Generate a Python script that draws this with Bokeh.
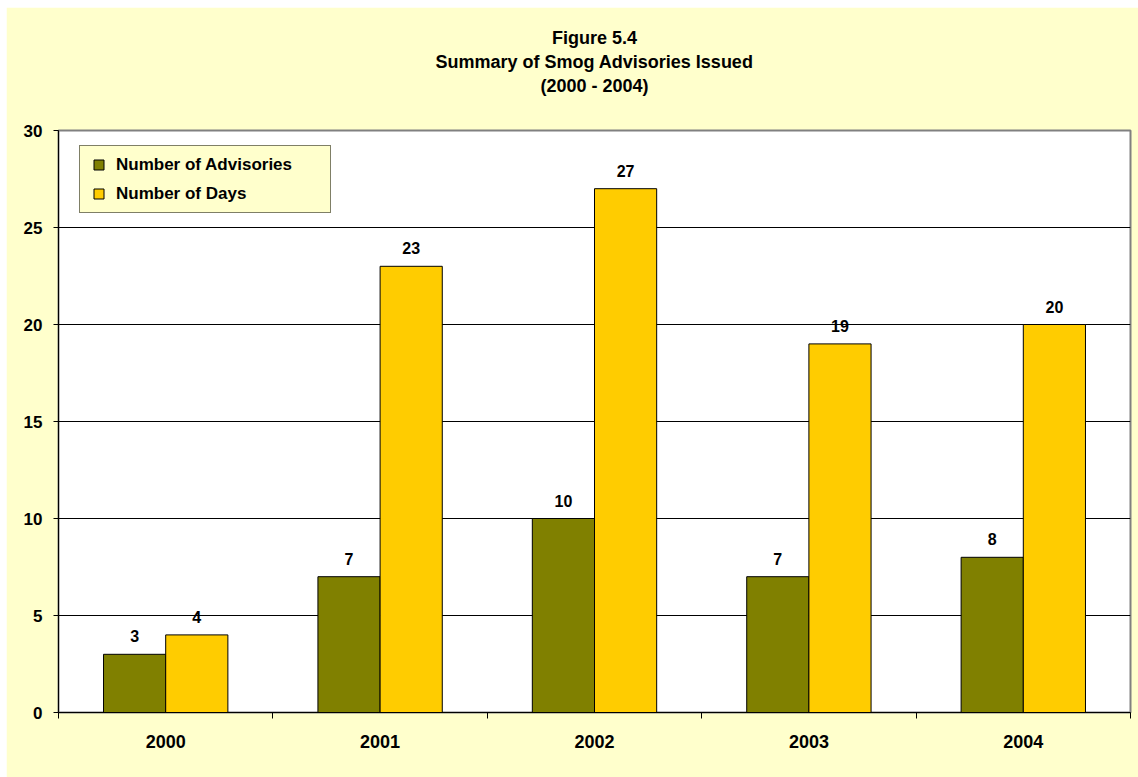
from bokeh.plotting import figure
from bokeh.models import (ColumnDataSource, FixedTicker, Range1d, Legend, LegendItem,
                          Title, Spacer)
from bokeh.layouts import column, row
from bokeh.transform import dodge
from bokeh.core.properties import value
from bokeh.embed import file_html
from bokeh.resources import INLINE

years = ["2000", "2001", "2002", "2003", "2004"]
advisories = [3, 7, 10, 7, 8]
days = [4, 23, 27, 19, 20]
y_ticks = [0, 5, 10, 15, 20, 25, 30]
series_names = ["Number of Advisories", "Number of Days"]
title_lines = ["Figure 5.4", "Summary of Smog Advisories Issued", "(2000 - 2004)"]

FONT = "Liberation Sans"
OLIVE = "#808000"
GOLD = "#FFCC00"
BG = "#FFFFCC"

xpos = [i + 0.5 for i in range(len(years))]
src = ColumnDataSource(dict(x=xpos, adv=advisories, days=days,
                            adv_t=[str(v) for v in advisories],
                            days_t=[str(v) for v in days]))

p = figure(width=1132, height=770, output_backend="svg", toolbar_location=None,
           title=None,
           x_range=Range1d(0, len(years)), y_range=Range1d(0, 30),
           min_border_left=52, min_border_right=8, min_border_top=123, min_border_bottom=65)

p.border_fill_color = BG
p.background_fill_color = "white"
p.outline_line_color = "#808080"
p.outline_line_width = 2

xa = p.below[0]
ya = p.left[0]

# blank band between the plot area and the title block
p.add_layout(Title(text=" ", text_font_size="2px", standoff=30), "above")

# title: three centred lines, innermost first
for line in (title_lines[2], title_lines[1], title_lines[0]):
    p.add_layout(Title(text=line, align="center", text_font=FONT, text_font_size="18px",
                       text_font_style="bold", text_color="black", standoff=2), "above")

bw = 0.29
p.vbar(x=dodge("x", -bw / 2, range=p.x_range), top="adv", width=bw, source=src,
       fill_color=OLIVE, line_color="black", line_width=1)
p.vbar(x=dodge("x", bw / 2, range=p.x_range), top="days", width=bw, source=src,
       fill_color=GOLD, line_color="black", line_width=1)

for col, off in (("adv", -bw / 2), ("days", bw / 2)):
    p.text(x=dodge("x", off, range=p.x_range), y=col, text=col + "_t", source=src,
           text_align="center", text_baseline="bottom", y_offset=-12,
           text_font=value(FONT), text_font_style="bold", text_font_size="16px",
           text_color="black")

# legend swatches: square markers (hidden in the plot, shown in the legend)
sw1 = p.scatter(x=dodge("x", -bw / 2, range=p.x_range), y="adv", source=src,
                marker="square", fill_color=OLIVE, line_color="black", visible=False)
sw2 = p.scatter(x=dodge("x", bw / 2, range=p.x_range), y="days", source=src,
                marker="square", fill_color=GOLD, line_color="black", visible=False)

# axes
xa.ticker = FixedTicker(ticks=xpos, minor_ticks=list(range(len(years) + 1)))
xa.major_label_overrides = {x: y for x, y in zip(xpos, years)}
xa.major_tick_out = 0
xa.major_tick_in = 0
xa.minor_tick_out = 6
xa.minor_tick_in = 0
xa.minor_tick_line_color = "black"
xa.major_label_standoff = 16
xa.major_label_text_font_size = "18px"
ya.ticker = FixedTicker(ticks=y_ticks)
ya.major_tick_out = 5
ya.major_tick_in = 0
ya.minor_tick_out = 0
ya.major_label_standoff = 11
ya.major_label_text_font_size = "17px"
for ax in (xa, ya):
    ax.axis_line_color = "black"
    ax.axis_line_width = 1
    ax.major_tick_line_color = "black"
    ax.major_label_text_font = FONT
    ax.major_label_text_font_style = "bold"
    ax.major_label_text_color = "black"

p.xgrid.visible = False
p.ygrid.ticker = FixedTicker(ticks=y_ticks[1:-1])
p.ygrid.grid_line_color = "black"
p.ygrid.grid_line_width = 1

legend = Legend(items=[LegendItem(label=series_names[0], renderers=[sw1]),
                       LegendItem(label=series_names[1], renderers=[sw2])],
                location=(21, 499), orientation="vertical")
legend.background_fill_color = BG
legend.background_fill_alpha = 1
legend.border_line_color = "black"
legend.border_line_width = 1
legend.label_text_font = FONT
legend.label_text_font_style = "bold"
legend.label_text_font_size = "17px"
legend.label_text_color = "black"
legend.glyph_width = 25
legend.glyph_height = 25
legend.label_height = 25
legend.label_width = 208
legend.label_standoff = 5
legend.padding = 6
legend.spacing = 4
legend.margin = 0
p.add_layout(legend, "center")

layout = column(Spacer(height=7), row(Spacer(width=6), p))
open("out.html", "w").write(file_html(layout, INLINE))
